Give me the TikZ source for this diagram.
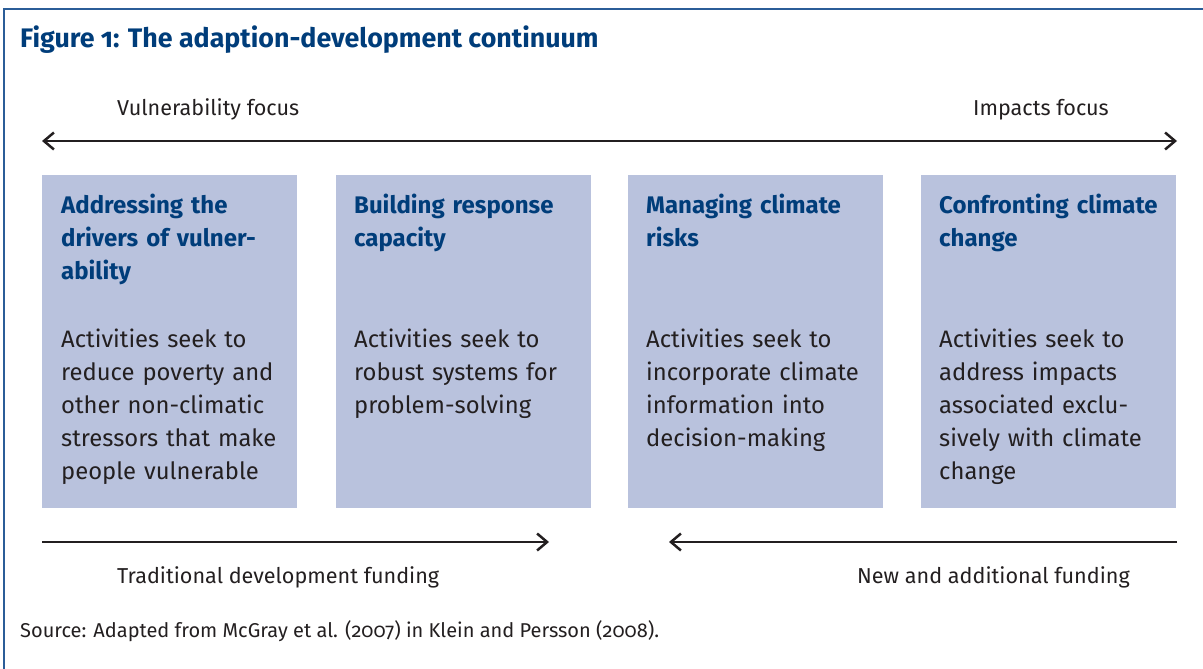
\documentclass[tikz,border=0pt]{standalone}
\usepackage{fontspec}
\setmainfont{Fira Sans}[RawFeature={+onum}]
\usetikzlibrary{arrows.meta}
\definecolor{frameblue}{RGB}{43,93,152}
\definecolor{headblue}{RGB}{0,61,122}
\definecolor{panelfill}{RGB}{185,194,221}
\definecolor{inkgray}{RGB}{35,31,32}
\tikzstyle{panel} = [fill=panelfill, anchor=north west, minimum width=255, minimum height=333, inner sep=0]
\tikzstyle{head} = [anchor=base west, inner sep=0, text width=235, align=left, text=headblue, font=\bfseries\fontsize{24}{33}\selectfont]
\tikzstyle{body} = [anchor=base west, inner sep=0, text width=235, align=left, text=inkgray, font=\fontsize{23.8}{33}\selectfont]
\tikzstyle{note} = [anchor=base west, inner sep=0, text=inkgray, font=\fontsize{21.6}{25}\selectfont]
\tikzstyle{flow} = [line width=2.5, inkgray]

\begin{document}
\begin{tikzpicture}[x=1pt, y=-1pt]
    \useasboundingbox (0,0) rectangle (1203,669);
    \draw [frameblue, line width=2] (4,669) -- (4,9) -- (1203,9);
    \draw (20,48) node[anchor=base west, inner sep=0, text=headblue, font=\bfseries\fontsize{26.8}{30}\selectfont] (title) {Figure 1: The adaption-development continuum};

    \draw (117,115) node[note] (vfocus) {Vulnerability focus};
    \draw (973,115) node[note] (ifocus) {Impacts focus};
    \coordinate (tl) at (42,141);
    \coordinate (tr) at (1177,141);
    \draw [flow, {Straight Barb[length=10,width=17]}-{Straight Barb[length=10,width=17]}] (tl) -- (tr);

    \draw (42,175) node[panel] (p1) {};
    \draw (336,175) node[panel] (p2) {};
    \draw (628,175) node[panel] (p3) {};
    \draw (921,175) node[panel] (p4) {};

    \draw (61,213) node[head] (h1) {Addressing the\\drivers of vulner-\\ability};
    \draw (354,213) node[head] (h2) {Building response\\capacity};
    \draw (646,213) node[head] (h3) {Managing climate\\risks};
    \draw (939,213) node[head] (h4) {Confronting climate\\change};

    \draw (61,347) node[body] (b1) {Activities seek to\\reduce poverty and\\other non-climatic\\stressors that make\\people vulnerable};
    \draw (354,347) node[body] (b2) {Activities seek to\\robust systems for\\problem-solving};
    \draw (646,347) node[body] (b3) {Activities seek to\\incorporate climate\\information into\\decision-making};
    \draw (939,347) node[body] (b4) {Activities seek to\\address impacts\\associated exclu-\\sively with climate\\change};

    \coordinate (dl) at (42,542);
    \coordinate (dr) at (549,542);
    \coordinate (nr) at (1177,542);
    \coordinate (nl) at (669,542);
    \draw [flow, -{Straight Barb[length=10,width=17]}] (dl) -- (dr);
    \draw [flow, -{Straight Barb[length=10,width=17]}] (nr) -- (nl);
    \draw (117,583) node[note] (tdf) {Traditional development funding};
    \draw (857,583) node[note] (naf) {New and additional funding};

    \draw (20,637) node[anchor=base west, inner sep=0, text=inkgray, font=\fontsize{20}{24}\selectfont] (src) {Source: Adapted from McGray et al. (2007) in Klein and Persson (2008).};
\end{tikzpicture}
\end{document}
